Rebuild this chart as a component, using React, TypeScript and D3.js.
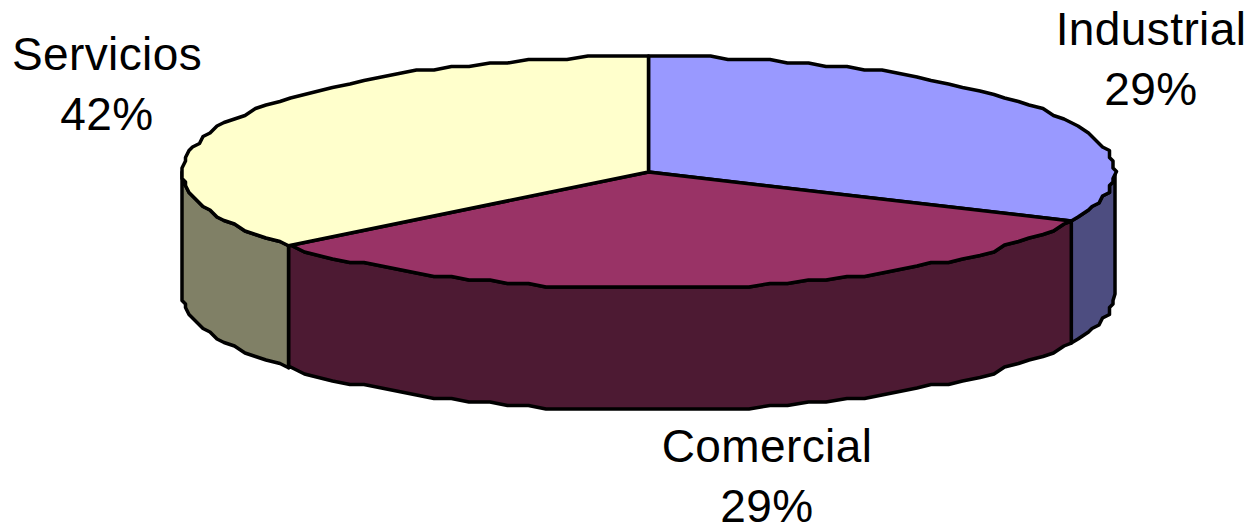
import React from "react";
import * as d3 from "d3";

const categories = ["Industrial", "Comercial", "Servicios"];
const percents = [29, 29, 42];
// where each slice boundary lands on the drawn rim, degrees clockwise from the top
// (the old 3D renderer squeezes the angles, so they differ from the shares)
const rimBreaks = [0, 115, 230.5, 360];
const topColors = ["#9999FF", "#993366", "#FFFFCC"];
const sideColors = ["#4D4D80", "#4D1A33", "#808066"];
const labelCenters: [number, number][] = [
  [1151, 45],
  [767, 462],
  [107, 70],
];

const width = 1251;
const height = 527;
const cx = 648.5;
const cy = 172;
const rx = 466.5;
const ry = 116;
const depth = 122;
const snapGrid = 3.5; // outline was upscaled from a coarse raster
const stepDeg = 2.5;

type Pt = [number, number];

const snap = (v: number) => Math.round(v / snapGrid) * snapGrid;
const toRad = (deg: number) => (deg * Math.PI) / 180;

function rimPoint(deg: number): Pt {
  const x = cx + rx * Math.sin(toRad(deg));
  const y = cy - ry * Math.cos(toRad(deg));
  return [x, y];
}

// sampled rim from a to b, inner points snapped so the edge wobbles like the source
function rimPoints(a: number, b: number): Pt[] {
  const pts: Pt[] = [rimPoint(a)];
  const first = Math.ceil(a / stepDeg + 0.01) * stepDeg;
  for (let d = first; d < b; d += stepDeg) {
    const [x, y] = rimPoint(d);
    pts.push([snap(x), snap(y)]);
  }
  pts.push(rimPoint(b));
  return pts;
}

export default function App() {
  const pie = d3.pie<number>().sort(null).value((d) => d);
  const arcs = pie(percents);

  const rimScale = d3
    .scaleLinear()
    .domain([...arcs.map((a) => a.startAngle), 2 * Math.PI])
    .range(rimBreaks);

  const line = d3.line<Pt>().curve(d3.curveLinear);

  const tops = arcs.map((a) => {
    const pts = rimPoints(rimScale(a.startAngle), rimScale(a.endAngle));
    return line([[cx, cy], ...pts]) + "Z";
  });

  // only the part of the rim facing the viewer has a wall (90 to 270 degrees)
  const walls = arcs.map((a) => {
    const from = Math.max(rimScale(a.startAngle), 90);
    const to = Math.min(rimScale(a.endAngle), 270);
    if (to <= from) return null;
    const upper = rimPoints(from, to);
    const lower = upper.map(([x, y]) => [x, y + depth] as Pt).reverse();
    return line([...upper, ...lower]) + "Z";
  });

  return (
    <svg
      width={width}
      height={height}
      viewBox={`0 0 ${width} ${height}`}
      style={{ position: "absolute", left: 0, top: 0, background: "#fff" }}
    >
      {walls.map((d, i) =>
        d ? (
          <path key={i} d={d} fill={sideColors[i]} stroke="#000" strokeWidth={3.5} strokeLinejoin="round" />
        ) : null
      )}
      {tops.map((d, i) => (
        <path key={i} d={d} fill={topColors[i]} stroke="#000" strokeWidth={3.5} strokeLinejoin="round" />
      ))}
      {categories.map((name, i) => (
        <text
          key={name}
          textAnchor="middle"
          fontFamily="'Liberation Sans', Arial, sans-serif"
          fontSize={46}
          letterSpacing={0.4}
          fill="#000"
        >
          <tspan x={labelCenters[i][0]} y={labelCenters[i][1]}>
            {name}
          </tspan>
          <tspan x={labelCenters[i][0]} y={labelCenters[i][1] + 60}>
            {percents[i]}%
          </tspan>
        </text>
      ))}
    </svg>
  );
}
